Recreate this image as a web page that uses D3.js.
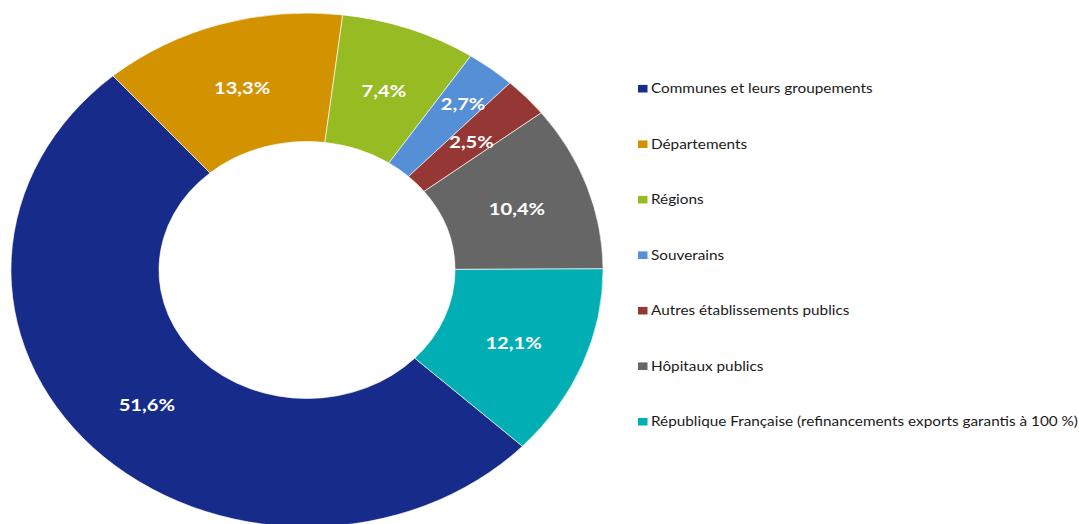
<!DOCTYPE html>
<html>
<head>
<meta charset="utf-8">
<script src="https://cdn.jsdelivr.net/npm/d3@7"></script>
<style>
  html, body { margin: 0; padding: 0; background: #ffffff; }
  svg { display: block; }
  text { font-family: Lato, "Open Sans", sans-serif; }
</style>
</head>
<body>
<svg id="chart" width="1079" height="524"></svg>
<script>
// Répartition des encours par catégorie de contrepartie
const categories = [
  "Communes et leurs groupements",
  "Départements",
  "Régions",
  "Souverains",
  "Autres établissements publics",
  "Hôpitaux publics",
  "République Française (refinancements exports garantis à 100 %)"
];
const shares = [51.6, 13.3, 7.4, 2.7, 2.5, 10.4, 12.1];
const labels = ["51,6%", "13,3%", "7,4%", "2,7%", "2,5%", "10,4%", "12,1%"];
const colors = ["#172b8a", "#d39200", "#97bb22", "#558fd6", "#943735", "#666666", "#00aeb3"];

const W = 1079, H = 524;
const stretchX = 1.152;        // the drawing is widened horizontally
const cx = 307, cy = 270;
const outerR = 257, innerR = 128.5;
const startDeg = 133.3;

const svg = d3.select("#chart");

const pie = d3.pie()
  .sort(null)
  .value(d => d.value)
  .startAngle(startDeg * Math.PI / 180)
  .endAngle(startDeg * Math.PI / 180 + 2 * Math.PI);

const data = categories.map((c, i) => ({ name: c, value: shares[i], label: labels[i], color: colors[i] }));
const arcs = pie(data);

const arc = d3.arc().innerRadius(innerR).outerRadius(outerR);
const midR = (innerR + outerR) / 2;

// Value labels sit mid-ring; two neighbouring thin slices would collide,
// so the first of them is pushed outwards along its bisector.
function labelPos(d, i) {
  const prev = arcs[i + 1];
  const thin = (d.endAngle - d.startAngle) < 0.2 && prev && (prev.endAngle - prev.startAngle) < 0.2;
  const r = thin ? midR + 23 : midR;
  const a = (d.startAngle + d.endAngle) / 2 + (thin ? 0.008 : 0);
  return [r * Math.sin(a), -r * Math.cos(a)];
}

const g = svg.append("g")
  .attr("transform", `translate(${cx},${cy}) scale(${stretchX},1)`);

g.selectAll("path.slice")
  .data(arcs)
  .join("path")
  .attr("class", "slice")
  .attr("d", arc)
  .attr("fill", d => d.data.color)
  .attr("stroke", "#ffffff")
  .attr("stroke-width", 0.6);

g.selectAll("text.val")
  .data(arcs)
  .join("text")
  .attr("class", "val")
  .attr("transform", (d, i) => `translate(${labelPos(d, i)})`)
  .attr("text-anchor", "middle")
  .attr("dy", "0.45em")
  .attr("fill", "#ffffff")
  .attr("font-weight", "bold")
  .attr("font-size", 17.5)
  .text(d => d.data.label);

// Légende
const legendX = 638, legendY0 = 88.7, legendStep = 55.5;
const lg = svg.append("g")
  .attr("transform", `translate(${legendX},0) scale(${stretchX},1)`);

const items = lg.selectAll("g.item")
  .data(data)
  .join("g")
  .attr("class", "item")
  .attr("transform", (d, i) => `translate(0,${legendY0 + i * legendStep})`);

items.append("rect")
  .attr("x", 0)
  .attr("y", -3.8)
  .attr("width", 9.5 / stretchX)
  .attr("height", 7.6)
  .attr("fill", d => d.color);

items.append("text")
  .attr("x", 13 / stretchX)
  .attr("y", 4.6)
  .attr("font-size", 13.3)
  .attr("fill", "#1a1a1a")
  .text(d => d.name);
</script>
</body>
</html>
